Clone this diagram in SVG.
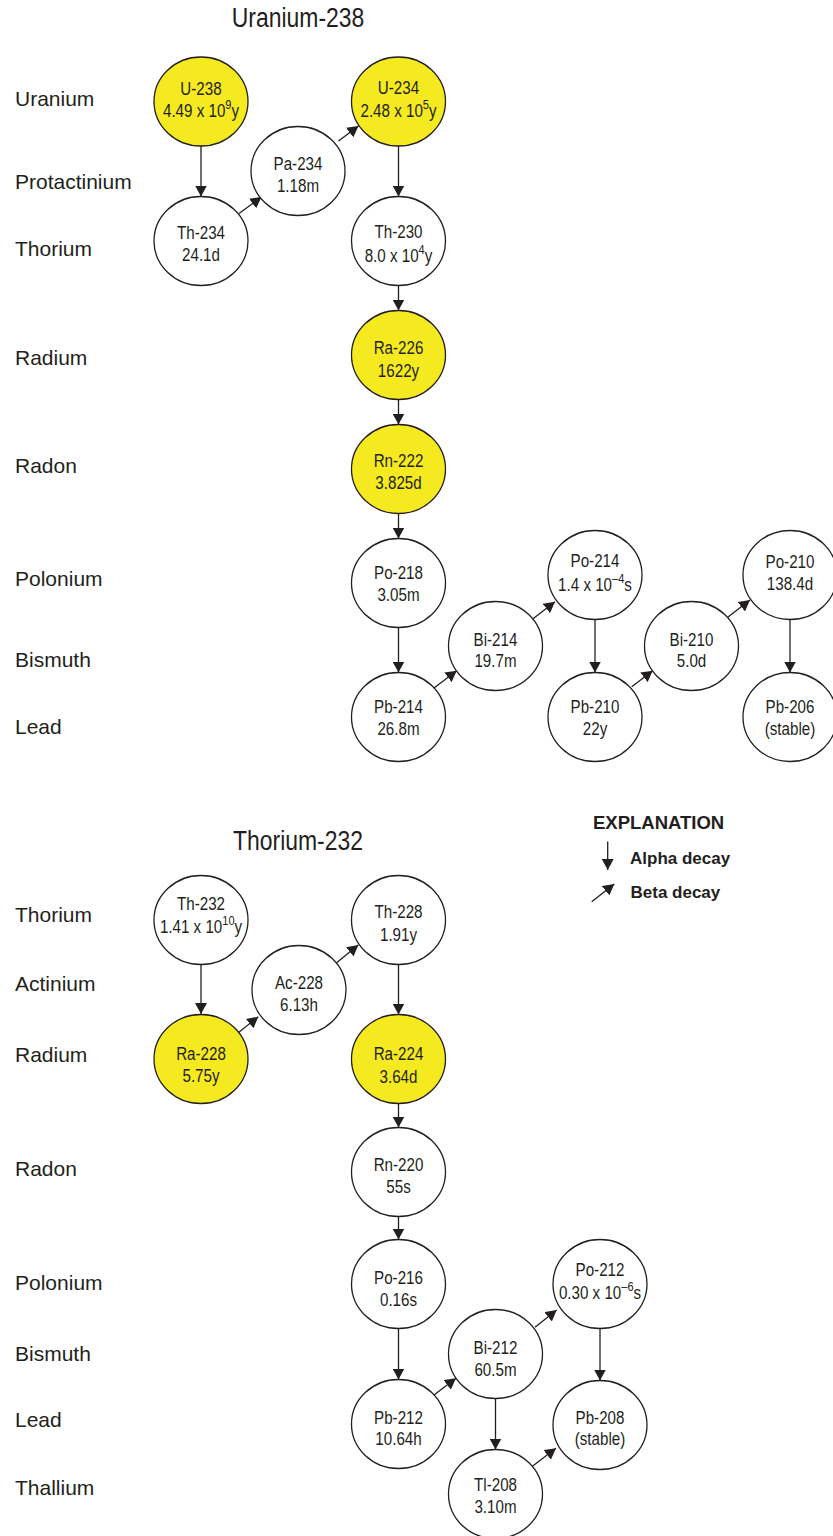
<svg xmlns="http://www.w3.org/2000/svg" width="833" height="1536" viewBox="0 0 833 1536">
<style>
.node ellipse{fill:#ffffff;stroke:#231f20;stroke-width:1.3}
.node.y ellipse{fill:#f5ea1f}
.nt{font-family:"Liberation Sans",Arial,sans-serif;font-size:18.5px;fill:#231f20;text-anchor:middle}
.sup{font-size:13.5px}
.lbl{font-family:"Liberation Sans",Arial,sans-serif;font-size:21px;fill:#231f20}
.title{font-family:"Liberation Sans",Arial,sans-serif;font-size:27px;fill:#231f20;text-anchor:middle}
.leg{font-family:"Liberation Sans",Arial,sans-serif;font-weight:bold;fill:#231f20}
.conn line{stroke:#231f20;stroke-width:1.3;marker-end:url(#ah)}
</style>
<defs>
<marker id="ah" viewBox="0 0 11 12" refX="11" refY="6" markerWidth="11" markerHeight="12" markerUnits="userSpaceOnUse" orient="auto"><path d="M0,0 L11,6 L0,12 z" fill="#231f20"/></marker>
</defs>
<rect width="833" height="1536" fill="#ffffff"/>

<g id="titles">
<text class="title" transform="translate(298 0) scale(0.85 1)" y="27">Uranium-238</text>
<text class="title" transform="translate(298 0) scale(0.85 1)" y="850">Thorium-232</text>
</g>

<g id="labels">
<text class="lbl" x="15" y="106">Uranium</text>
<text class="lbl" x="15" y="189">Protactinium</text>
<text class="lbl" x="15" y="256">Thorium</text>
<text class="lbl" x="15" y="365">Radium</text>
<text class="lbl" x="15" y="473">Radon</text>
<text class="lbl" x="15" y="586">Polonium</text>
<text class="lbl" x="15" y="667">Bismuth</text>
<text class="lbl" x="15" y="734">Lead</text>
<text class="lbl" x="15" y="922">Thorium</text>
<text class="lbl" x="15" y="991">Actinium</text>
<text class="lbl" x="15" y="1062">Radium</text>
<text class="lbl" x="15" y="1176">Radon</text>
<text class="lbl" x="15" y="1290">Polonium</text>
<text class="lbl" x="15" y="1361">Bismuth</text>
<text class="lbl" x="15" y="1427">Lead</text>
<text class="lbl" x="15" y="1495">Thallium</text>
</g>

<g id="connectors" class="conn">
<line x1="201" y1="146" x2="201" y2="196.5"/>
<line x1="239" y1="213.5" x2="261.5" y2="197"/>
<line x1="338.5" y1="141" x2="358.5" y2="126"/>
<line x1="398.5" y1="146" x2="398.5" y2="196.5"/>
<line x1="398.5" y1="285.5" x2="398.5" y2="310.5"/>
<line x1="398.5" y1="399.5" x2="398.5" y2="424.5"/>
<line x1="398.5" y1="513.5" x2="398.5" y2="538.5"/>
<line x1="398.5" y1="627.5" x2="398.5" y2="672.5"/>
<line x1="434" y1="688" x2="456.7" y2="670.7"/>
<line x1="532.7" y1="619" x2="555" y2="601.7"/>
<line x1="595" y1="619.5" x2="595" y2="672.5"/>
<line x1="631.7" y1="686.7" x2="652.7" y2="670.7"/>
<line x1="727.7" y1="617.3" x2="750" y2="600"/>
<line x1="790" y1="619.5" x2="790" y2="672.5"/>
<line x1="201" y1="964.5" x2="201" y2="1014"/>
<line x1="236.7" y1="1034" x2="258.3" y2="1016.7"/>
<line x1="335" y1="964" x2="358.3" y2="945"/>
<line x1="398.5" y1="964.5" x2="398.5" y2="1014.5"/>
<line x1="398.5" y1="1103.5" x2="398.5" y2="1127.5"/>
<line x1="398.5" y1="1216.5" x2="398.5" y2="1239.5"/>
<line x1="398.5" y1="1328.5" x2="398.5" y2="1379.5"/>
<line x1="434" y1="1395" x2="456" y2="1378.3"/>
<line x1="535" y1="1327.3" x2="556.7" y2="1310"/>
<line x1="495.5" y1="1398.5" x2="495.5" y2="1449.5"/>
<line x1="600" y1="1328.5" x2="600" y2="1380.5"/>
<line x1="532.7" y1="1466" x2="556" y2="1448.3"/>
</g>

<g id="u238" class="node y"><ellipse cx="201" cy="101.5" rx="47" ry="44.5"/><g transform="translate(201 0) scale(0.82 1)"><text class="nt" y="95">U-238</text><text class="nt" y="117">4.49 x 10<tspan class="sup" dy="-8">9</tspan><tspan dy="8">y</tspan></text></g></g>
<g id="pa234" class="node"><ellipse cx="298" cy="171" rx="47" ry="44.5"/><g transform="translate(298 0) scale(0.82 1)"><text class="nt" y="170.5">Pa-234</text><text class="nt" y="192.5">1.18m</text></g></g>
<g id="u234" class="node y"><ellipse cx="398.5" cy="101.5" rx="47" ry="44.5"/><g transform="translate(398.5 0) scale(0.82 1)"><text class="nt" y="94.5">U-234</text><text class="nt" y="117">2.48 x 10<tspan class="sup" dy="-8">5</tspan><tspan dy="8">y</tspan></text></g></g>
<g id="th234" class="node"><ellipse cx="201" cy="241" rx="47" ry="44.5"/><g transform="translate(201 0) scale(0.82 1)"><text class="nt" y="239.5">Th-234</text><text class="nt" y="261.5">24.1d</text></g></g>
<g id="th230" class="node"><ellipse cx="398.5" cy="241" rx="47" ry="44.5"/><g transform="translate(398.5 0) scale(0.82 1)"><text class="nt" y="238.5">Th-230</text><text class="nt" y="262">8.0 x 10<tspan class="sup" dy="-8">4</tspan><tspan dy="8">y</tspan></text></g></g>
<g id="ra226" class="node y"><ellipse cx="398.5" cy="355" rx="47" ry="44.5"/><g transform="translate(398.5 0) scale(0.82 1)"><text class="nt" y="354">Ra-226</text><text class="nt" y="377">1622y</text></g></g>
<g id="rn222" class="node y"><ellipse cx="398.5" cy="469" rx="47" ry="44.5"/><g transform="translate(398.5 0) scale(0.82 1)"><text class="nt" y="467">Rn-222</text><text class="nt" y="489.5">3.825d</text></g></g>
<g id="po218" class="node"><ellipse cx="398.5" cy="583" rx="47" ry="44.5"/><g transform="translate(398.5 0) scale(0.82 1)"><text class="nt" y="579">Po-218</text><text class="nt" y="601.5">3.05m</text></g></g>
<g id="pb214" class="node"><ellipse cx="398.5" cy="717" rx="47" ry="44.5"/><g transform="translate(398.5 0) scale(0.82 1)"><text class="nt" y="713.5">Pb-214</text><text class="nt" y="735">26.8m</text></g></g>
<g id="bi214" class="node"><ellipse cx="495.5" cy="646" rx="47" ry="44.5"/><g transform="translate(495.5 0) scale(0.82 1)"><text class="nt" y="646">Bi-214</text><text class="nt" y="667.5">19.7m</text></g></g>
<g id="po214" class="node"><ellipse cx="595" cy="575" rx="47" ry="44.5"/><g transform="translate(595 0) scale(0.82 1)"><text class="nt" y="567.5">Po-214</text><text class="nt" y="591">1.4 x 10<tspan class="sup" dy="-8">–4</tspan><tspan dy="8">s</tspan></text></g></g>
<g id="pb210" class="node"><ellipse cx="595" cy="717" rx="47" ry="44.5"/><g transform="translate(595 0) scale(0.82 1)"><text class="nt" y="713.5">Pb-210</text><text class="nt" y="735">22y</text></g></g>
<g id="bi210" class="node"><ellipse cx="691.5" cy="646" rx="47" ry="44.5"/><g transform="translate(691.5 0) scale(0.82 1)"><text class="nt" y="646">Bi-210</text><text class="nt" y="667.5">5.0d</text></g></g>
<g id="po210" class="node"><ellipse cx="790" cy="575" rx="47" ry="44.5"/><g transform="translate(790 0) scale(0.82 1)"><text class="nt" y="568.5">Po-210</text><text class="nt" y="590.5">138.4d</text></g></g>
<g id="pb206" class="node"><ellipse cx="790" cy="717" rx="47" ry="44.5"/><g transform="translate(790 0) scale(0.82 1)"><text class="nt" y="713.5">Pb-206</text><text class="nt" y="735">(stable)</text></g></g>

<g id="th232" class="node"><ellipse cx="201" cy="920" rx="47" ry="44.5"/><g transform="translate(201 0) scale(0.82 1)"><text class="nt" y="910">Th-232</text><text class="nt" y="933">1.41 x 10<tspan class="sup" dy="-8">10</tspan><tspan dy="8">y</tspan></text></g></g>
<g id="ac228" class="node"><ellipse cx="299" cy="990" rx="47" ry="44.5"/><g transform="translate(299 0) scale(0.82 1)"><text class="nt" y="989.5">Ac-228</text><text class="nt" y="1011.5">6.13h</text></g></g>
<g id="th228" class="node"><ellipse cx="398.5" cy="920" rx="47" ry="44.5"/><g transform="translate(398.5 0) scale(0.82 1)"><text class="nt" y="918.5">Th-228</text><text class="nt" y="941">1.91y</text></g></g>
<g id="ra228" class="node y"><ellipse cx="201" cy="1059" rx="47" ry="44.5"/><g transform="translate(201 0) scale(0.82 1)"><text class="nt" y="1060">Ra-228</text><text class="nt" y="1082.5">5.75y</text></g></g>
<g id="ra224" class="node y"><ellipse cx="398.5" cy="1059" rx="47" ry="44.5"/><g transform="translate(398.5 0) scale(0.82 1)"><text class="nt" y="1060.5">Ra-224</text><text class="nt" y="1083">3.64d</text></g></g>
<g id="rn220" class="node"><ellipse cx="398.5" cy="1172" rx="47" ry="44.5"/><g transform="translate(398.5 0) scale(0.82 1)"><text class="nt" y="1171.5">Rn-220</text><text class="nt" y="1193.5">55s</text></g></g>
<g id="po216" class="node"><ellipse cx="398.5" cy="1284" rx="47" ry="44.5"/><g transform="translate(398.5 0) scale(0.82 1)"><text class="nt" y="1284">Po-216</text><text class="nt" y="1306">0.16s</text></g></g>
<g id="pb212" class="node"><ellipse cx="398.5" cy="1424" rx="47" ry="44.5"/><g transform="translate(398.5 0) scale(0.82 1)"><text class="nt" y="1424">Pb-212</text><text class="nt" y="1445.5">10.64h</text></g></g>
<g id="bi212" class="node"><ellipse cx="495.5" cy="1354" rx="47" ry="44.5"/><g transform="translate(495.5 0) scale(0.82 1)"><text class="nt" y="1354">Bi-212</text><text class="nt" y="1376">60.5m</text></g></g>
<g id="po212" class="node"><ellipse cx="600" cy="1284" rx="47" ry="44.5"/><g transform="translate(600 0) scale(0.82 1)"><text class="nt" y="1276">Po-212</text><text class="nt" y="1299">0.30 x 10<tspan class="sup" dy="-8">–6</tspan><tspan dy="8">s</tspan></text></g></g>
<g id="pb208" class="node"><ellipse cx="600" cy="1425" rx="47" ry="44.5"/><g transform="translate(600 0) scale(0.82 1)"><text class="nt" y="1424">Pb-208</text><text class="nt" y="1445.5">(stable)</text></g></g>
<g id="tl208" class="node"><ellipse cx="495.5" cy="1494" rx="47" ry="44.5"/><g transform="translate(495.5 0) scale(0.82 1)"><text class="nt" y="1491.5">Tl-208</text><text class="nt" y="1513.5">3.10m</text></g></g>

<g id="legend">
<text class="leg" x="593" y="828.5" font-size="18.5">EXPLANATION</text>
<line x1="607.7" y1="841.5" x2="607.7" y2="870" stroke="#231f20" stroke-width="1.3" marker-end="url(#ah)"/>
<text class="leg" x="630" y="863.5" font-size="17">Alpha decay</text>
<line x1="591.7" y1="901.7" x2="614.3" y2="884" stroke="#231f20" stroke-width="1.3" marker-end="url(#ah)"/>
<text class="leg" x="630.5" y="897.5" font-size="17">Beta decay</text>
</g>
</svg>
